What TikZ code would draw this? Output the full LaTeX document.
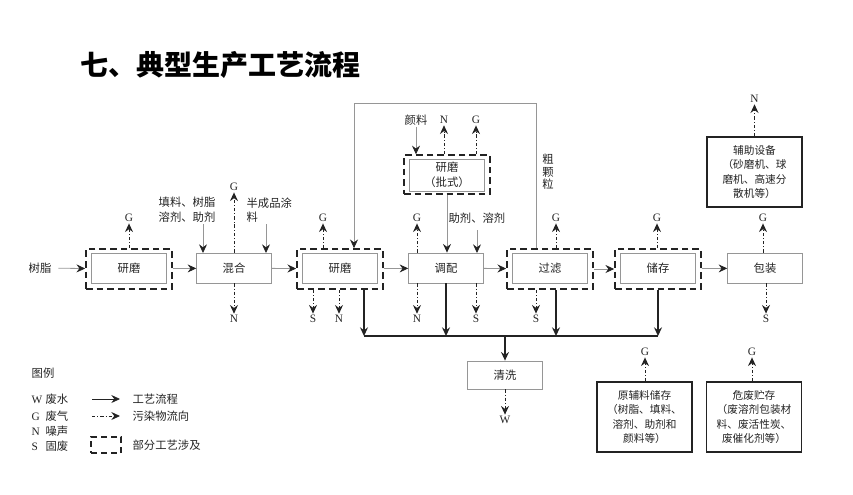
\documentclass[tikz,border=0pt]{standalone}
\usepackage{fontspec}
\setmainfont{Liberation Serif}
\newfontfamily\cjk{Noto Sans CJK SC}
\usetikzlibrary{arrows.meta}
\definecolor{boxgray}{RGB}{150,150,150}
\definecolor{inkdark}{RGB}{35,35,35}

\begin{document}
\begin{tikzpicture}[x=0.75pt,y=-0.75pt,
    every node/.style={text=inkdark},
    proc/.style={draw=boxgray,line width=0.6pt,minimum width=56pt,minimum height=22.5pt,
      inner sep=0pt,align=center,font=\cjk\fontsize{8.5}{11}\selectfont},
    partbox/.style={draw=inkdark,line width=1.3pt,dash pattern=on 5pt off 3pt,
      minimum width=64.5pt,minimum height=30pt,inner sep=0pt},
    infobox/.style={draw=inkdark,line width=1.2pt,minimum width=71pt,minimum height=52.5pt,
      inner sep=0pt,align=center,font=\cjk\fontsize{8}{10.8}\selectfont},
    tag/.style={font=\fontsize{8.5}{10}\selectfont,inner sep=1pt},
    note/.style={font=\cjk\fontsize{8.5}{11}\selectfont,inner sep=1pt},
    flow/.style={draw=boxgray,line width=0.6pt,-{Stealth[inkdark,length=6.5pt,width=6pt,inset=2.2pt]}},
    emit/.style={draw=inkdark,line width=0.7pt,dash pattern=on 2.5pt off 1.5pt on 0.7pt off 1.5pt,
      -{Stealth[length=6.5pt,width=6pt,inset=2.2pt]}},
    drop/.style={draw=inkdark,line width=1pt,-{Stealth[length=6.5pt,width=6pt,inset=2.2pt]}}]
  \useasboundingbox (0,0) rectangle (853,494);
  \node[font=\cjk\bfseries\fontsize{21}{21}\selectfont,text=black,anchor=west,inner sep=0pt]
    (title) at (80,65) {七、典型生产工艺流程};

  % main line
  \node[note] (resin) at (40,268) {树脂};
  \node[partbox] (mill1o) at (129,269) {};
  \node[proc] (mill1) at (129,268) {研磨};
  \node[proc] (mix) at (234,268) {混合};
  \node[partbox] (mill2o) at (340,269) {};
  \node[proc] (mill2) at (340,268) {研磨};
  \node[proc] (blend) at (446,268) {调配};
  \node[partbox] (filtero) at (550,269) {};
  \node[proc] (filter) at (550,268) {过滤};
  \node[partbox] (storeo) at (658,269) {};
  \node[proc] (store) at (658,268) {储存};
  \node[proc] (pack) at (765,268) {包装};
  \draw[flow,shorten <=4pt] (resin) -- (mill1o);
  \draw[flow] (mill1o) -- (mix);
  \draw[flow] (mix) -- (mill2o);
  \draw[flow] (mill2o) -- (blend);
  \draw[flow] (blend) -- (filtero);
  \draw[flow] (filtero) -- (storeo);
  \draw[flow] (storeo) -- (pack);

  % feeds into mixing
  \node[note,align=left] (feedA) at (187,210) {填料、树脂\\溶剂、助剂};
  \node[note,align=left,anchor=north west] (feedB) at (245,196) {半成品涂\\料};
  \coordinate (mixinA) at (203,253);
  \coordinate (mixinB) at (266,253);
  \draw[flow] (mixinA |- feedA.south) -- (mixinA);
  \draw[flow] (mixinB |- feedB.south) -- (mixinB);

  % batch milling
  \node[partbox,minimum height=29pt] (batcho) at (447,174.5) {};
  \node[proc,minimum height=24pt] (batch) at (447,175) {研磨\\（批式）};
  \node[note] (pigment) at (416,120) {颜料};
  \node[tag] (batchN) at (444,120) {N};
  \node[tag] (batchG) at (476,120) {G};
  \draw[flow] (pigment) -- (pigment |- batcho.north);
  \draw[emit] (batcho.north -| batchN) -- (batchN);
  \draw[emit] (batcho.north -| batchG) -- (batchG);
  \draw[flow] (batcho.south) -- (batcho.south |- blend.north);
  \node[note,anchor=west] (additive) at (447,218) {助剂、溶剂};
  \coordinate (blendin) at (477,253);
  \draw[flow,shorten <=4pt] (additive.south -| blendin) -- (blendin);

  % coarse particle return
  \coordinate (loopR) at (536,103);
  \coordinate (loopL) at (354,103);
  \draw[flow] (filtero.north -| loopR) -- (loopR) -- (loopL) -- (loopL |- mill2o.north);
  \node[note,align=center,font=\cjk\fontsize{8.5}{9.5}\selectfont] (coarse) at (548,172) {粗\\颗\\粒};

  % emissions
  \node[tag] (mill1G) at (129,218) {G};
  \node[tag] (mixG) at (234,187) {G};
  \node[tag] (mixN) at (234,319) {N};
  \node[tag] (mill2G) at (323,218) {G};
  \node[tag] (mill2S) at (313,319) {S};
  \node[tag] (mill2N) at (339,319) {N};
  \node[tag] (blendG) at (417,218) {G};
  \node[tag] (blendN) at (417,319) {N};
  \node[tag] (blendS) at (476,319) {S};
  \node[tag] (filterG) at (556,218) {G};
  \node[tag] (filterS) at (536,319) {S};
  \node[tag] (storeG) at (657,218) {G};
  \node[tag] (packG) at (763,218) {G};
  \node[tag] (packS) at (766,319) {S};
  \draw[emit] (mill1o.north -| mill1G) -- (mill1G);
  \draw[emit] (mix.north) -- (mixG);
  \draw[emit] (mix.south) -- (mixN);
  \draw[emit] (mill2o.north -| mill2G) -- (mill2G);
  \draw[emit] (mill2o.south -| mill2S) -- (mill2S);
  \draw[emit] (mill2o.south -| mill2N) -- (mill2N);
  \draw[emit] (blend.north -| blendG) -- (blendG);
  \draw[emit] (blend.south -| blendN) -- (blendN);
  \draw[emit] (blend.south -| blendS) -- (blendS);
  \draw[emit] (filtero.north -| filterG) -- (filterG);
  \draw[emit] (filtero.south -| filterS) -- (filterS);
  \draw[emit] (storeo.north -| storeG) -- (storeG);
  \draw[emit] (pack.north -| packG) -- (packG);
  \draw[emit] (pack.south -| packS) -- (packS);

  % auxiliary equipment
  \node[infobox] (aux) at (754.5,172) {辅助设备\\（砂磨机、球\\磨机、高速分\\散机等）};
  \node[tag] (auxN) at (754.5,99) {N};
  \draw[emit] (aux.north) -- (auxN);

  % cleaning
  \coordinate (busL) at (364,336);
  \coordinate (busF) at (556,336);
  \coordinate (busR) at (658,336);
  \draw[inkdark,line width=1pt] (busL) -- (busR);
  \draw[drop] (mill2o.south -| busL) -- (busL);
  \draw[drop] (blend.south) -- (blend.south |- busL);
  \draw[drop] (filtero.south -| busF) -- (busF);
  \draw[drop] (storeo.south) -- (storeo.south |- busR);
  \node[proc,minimum height=21pt] (clean) at (505,375) {清洗};
  \node[tag] (cleanW) at (505,420) {W};
  \draw[drop] (clean.north |- busL) -- (clean.north);
  \draw[emit] (clean.south) -- (cleanW);

  % storage
  \node[infobox] (raw) at (644.5,417) {原辅料储存\\（树脂、填料、\\溶剂、助剂和\\颜料等）};
  \node[infobox] (haz) at (754,417) {危废贮存\\（废溶剂包装材\\料、废活性炭、\\废催化剂等）};
  \node[tag] (rawG) at (645,352) {G};
  \node[tag] (hazG) at (752,352) {G};
  \draw[emit] (raw.north -| rawG) -- (rawG);
  \draw[emit] (haz.north -| hazG) -- (hazG);

  % legend
  \node[note] (legendT) at (43,373) {图例};
  \node[tag,anchor=west] (keyW) at (30,399) {\makebox[10.5pt][l]{W}\cjk 废水};
  \node[tag,anchor=west] (keyG) at (30,416) {\makebox[10.5pt][l]{G}\cjk 废气};
  \node[tag,anchor=west] (keyN) at (30,431) {\makebox[10.5pt][l]{N}\cjk 噪声};
  \node[tag,anchor=west] (keyS) at (30,446) {\makebox[10.5pt][l]{S}\cjk 固废};
  \coordinate (keyA1) at (92,399);
  \coordinate (keyA2) at (120,399);
  \coordinate (keyB1) at (92,416);
  \coordinate (keyB2) at (120,416);
  \draw[flow,draw=inkdark] (keyA1) -- (keyA2);
  \draw[emit] (keyB1) -- (keyB2);
  \node[partbox,minimum width=22.5pt,minimum height=12pt,line width=1.1pt,
    dash pattern=on 4.5pt off 3pt] (keyBox) at (106,445) {};
  \node[note,anchor=west] (keyAt) at (131,399) {工艺流程};
  \node[note,anchor=west] (keyBt) at (131,416) {污染物流向};
  \node[note,anchor=west] (keyCt) at (131,445) {部分工艺涉及};
\end{tikzpicture}
\end{document}
